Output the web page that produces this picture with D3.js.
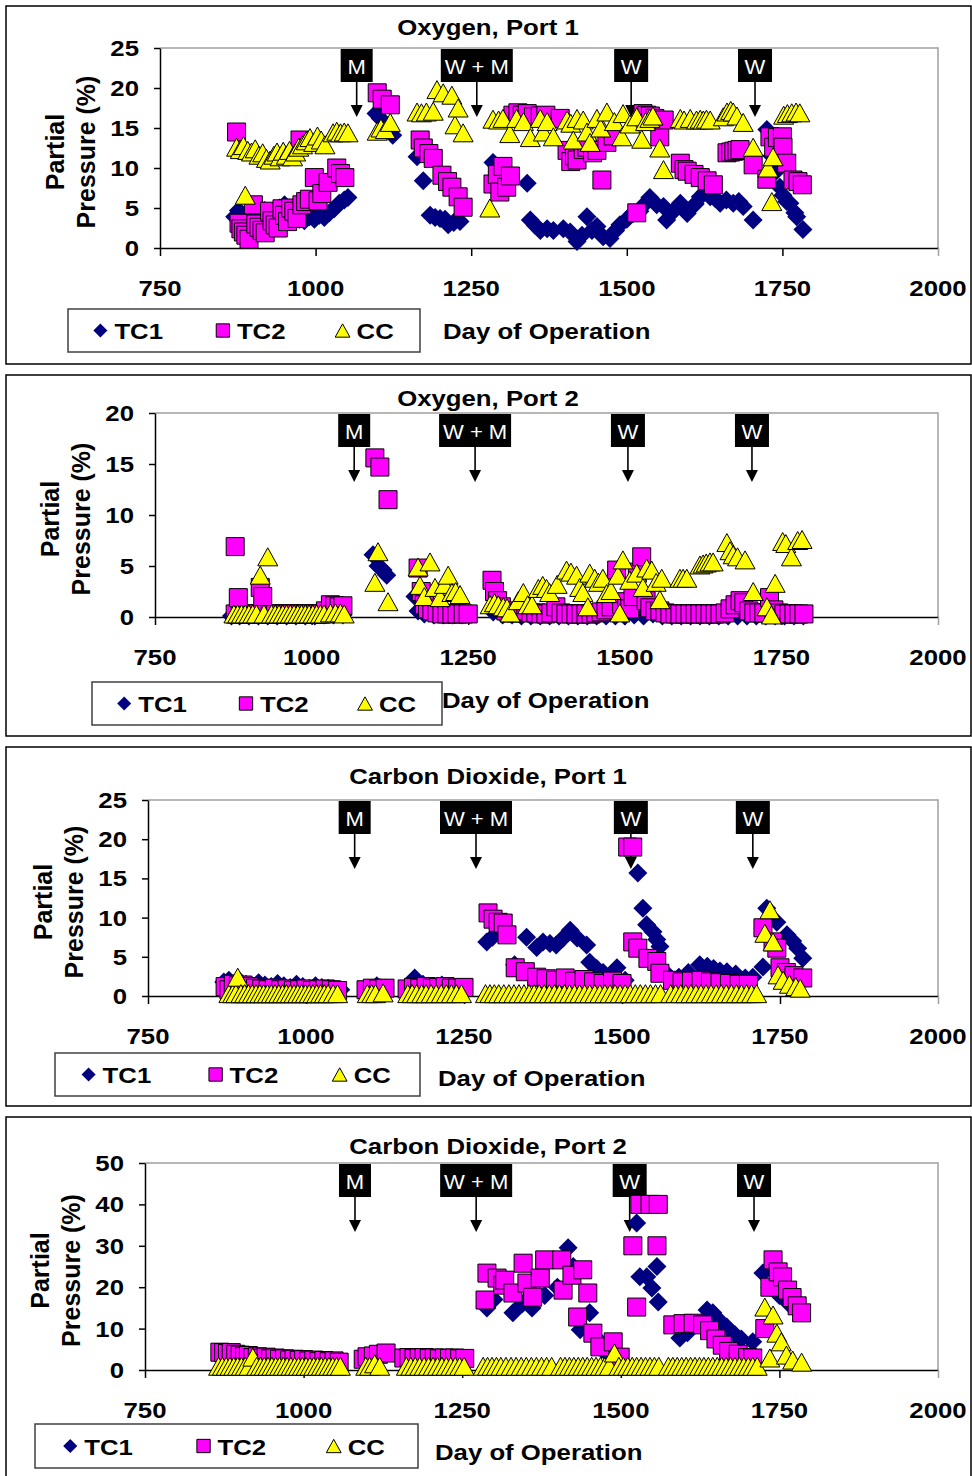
<!DOCTYPE html>
<html><head><meta charset="utf-8">
<script src="https://cdn.jsdelivr.net/npm/d3@7"></script>
<style>body{margin:0;background:#fff}svg{display:block}</style>
</head><body>
<svg id="c" width="972" height="1476"></svg>
<script>
// ---------- data: [day of operation, partial pressure %] ----------
const seriesNames = ["TC1", "TC2", "CC"];
const panelTitles = ["Oxygen, Port 1", "Oxygen, Port 2", "Carbon Dioxide, Port 1", "Carbon Dioxide, Port 2"];
const xTicks = [750, 1000, 1250, 1500, 1750, 2000];
const yTicksO2P1 = [0, 5, 10, 15, 20, 25];
const yTicksO2P2 = [0, 5, 10, 15, 20];
const yTicksCO2P1 = [0, 5, 10, 15, 20, 25];
const yTicksCO2P2 = [0, 10, 20, 30, 40, 50];
const eventLabels = ["M", "W + M", "W", "W"];
const eventDaysO2P1 = [1066, 1259, 1507, 1706];
const eventDaysO2P2 = [1068, 1261, 1505, 1703];
const eventDaysCO2P1 = [1077, 1269, 1514, 1707];
const eventDaysCO2P2 = [1081, 1272, 1514, 1710];

const o2p1TC1 = [[870,3.9],[876,4.7],[882,4.2],[888,3.5],[895,3.3],[902,3.9],[910,4.3],[918,4.7],[926,4.0],[934,4.5],[942,5.0],[950,5.4],[958,5.0],[966,4.4],[974,3.6],[982,3.4],[990,3.9],[998,3.6],[1006,4.1],[1014,3.8],[1022,4.4],[1030,4.9],[1038,5.6],[1046,6.0],[1052,6.3],[1097,16.8],[1104,16.2],[1112,15.5],[1124,14.1],[1163,11.4],[1173,8.4],[1184,4.1],[1192,3.8],[1200,3.7],[1208,3.6],[1213,2.9],[1222,3.2],[1232,3.3],[1285,10.7],[1292,8.6],[1300,7.7],[1340,8.1],[1345,3.5],[1353,2.8],[1361,2.2],[1372,2.4],[1382,2.2],[1398,2.4],[1409,2.0],[1420,0.8],[1428,1.6],[1436,3.9],[1444,2.2],[1452,2.7],[1462,1.4],[1473,1.2],[1482,2.2],[1489,2.9],[1500,3.6],[1510,4.3],[1521,4.6],[1530,5.6],[1537,6.3],[1548,5.4],[1559,5.2],[1564,3.5],[1575,4.6],[1586,5.6],[1597,4.3],[1610,5.5],[1618,6.4],[1626,7.0],[1634,6.4],[1642,6.2],[1650,5.6],[1660,6.0],[1671,5.6],[1680,5.8],[1687,5.2],[1703,3.5],[1725,14.8],[1733,11.5],[1740,9.6],[1746,7.6],[1751,6.6],[1757,5.8],[1762,5.6],[1770,4.4],[1773,3.9],[1783,2.3]];
const o2p1TC2 = [[873,14.5],[877,3.1],[880,2.4],[884,2.0],[888,1.6],[893,1.1],[900,5.4],[904,3.0],[909,2.6],[914,2.2],[919,1.9],[926,4.6],[930,3.4],[935,2.9],[940,2.5],[946,4.9],[950,4.1],[955,3.3],[960,5.0],[965,4.6],[970,3.7],[975,13.5],[978,5.4],[984,5.8],[990,6.1],[998,8.8],[1004,5.9],[1010,6.8],[1020,8.2],[1034,10.0],[1040,9.3],[1047,8.8],[1099,19.4],[1107,18.6],[1120,17.9],[1168,13.5],[1173,12.5],[1182,11.8],[1189,11.2],[1203,9.1],[1212,8.3],[1219,7.6],[1229,6.4],[1237,5.1],[1285,8.0],[1292,9.2],[1296,7.0],[1301,10.2],[1307,7.6],[1313,9.0],[1317,16.6],[1325,16.9],[1332,16.6],[1340,16.8],[1350,16.4],[1361,16.5],[1370,16.6],[1393,16.2],[1404,12.2],[1410,10.8],[1416,11.5],[1420,11.0],[1430,12.3],[1436,12.6],[1445,11.9],[1452,12.2],[1460,8.5],[1468,13.2],[1478,14.0],[1516,4.4],[1526,16.8],[1532,16.6],[1538,16.5],[1545,16.2],[1553,13.9],[1560,16.0],[1586,10.6],[1592,9.8],[1597,9.6],[1608,9.2],[1618,8.8],[1629,8.4],[1639,7.9],[1661,11.9],[1667,12.0],[1672,12.1],[1677,12.2],[1682,12.3],[1703,10.4],[1725,8.6],[1730,13.9],[1736,12.6],[1742,13.8],[1750,13.9],[1751,12.6],[1757,10.6],[1767,8.5],[1775,8.3],[1782,7.9]];
const o2p1CC = [[873,12.6],[879,12.3],[884,12.8],[887,6.6],[891,12.2],[897,12.0],[903,12.4],[909,11.6],[915,11.9],[921,11.2],[927,11.0],[933,11.6],[938,12.0],[943,11.4],[948,12.1],[953,11.6],[958,12.2],[963,11.4],[968,12.0],[973,12.6],[979,12.9],[985,13.4],[991,13.8],[997,13.2],[1003,14.0],[1009,13.5],[1015,12.9],[1028,14.4],[1034,14.6],[1040,14.4],[1046,14.5],[1052,14.4],[1099,14.6],[1105,15.0],[1112,14.8],[1120,15.7],[1163,17.0],[1170,16.9],[1178,17.0],[1189,17.1],[1195,19.8],[1205,19.4],[1219,19.1],[1224,15.4],[1229,17.5],[1237,14.4],[1280,5.0],[1285,16.1],[1294,16.0],[1301,16.2],[1312,14.3],[1323,16.2],[1334,15.8],[1345,13.8],[1361,16.2],[1366,14.5],[1372,15.8],[1382,13.9],[1404,16.0],[1410,15.6],[1414,13.5],[1420,16.2],[1430,16.0],[1436,14.5],[1441,13.2],[1452,16.2],[1458,15.0],[1468,17.0],[1480,15.8],[1492,13.9],[1494,16.8],[1505,15.5],[1516,16.4],[1524,13.6],[1530,15.8],[1537,16.2],[1542,16.5],[1553,12.5],[1559,9.8],[1586,16.2],[1592,16.0],[1602,16.2],[1612,16.0],[1618,16.1],[1623,16.0],[1628,16.1],[1634,16.0],[1655,16.4],[1661,17.0],[1667,17.2],[1671,17.0],[1677,16.5],[1687,15.7],[1703,12.6],[1727,10.0],[1733,5.8],[1735,11.4],[1752,16.6],[1758,16.8],[1765,16.9],[1772,17.0],[1778,16.9]];

const o2p2TC1 = [[872,0.1],[885,0.1],[900,0.1],[915,0.1],[930,0.1],[945,0.1],[960,0.1],[975,0.1],[990,0.1],[1005,0.1],[1020,0.2],[1035,0.2],[1050,0.2],[1098,6.1],[1106,5.0],[1114,4.6],[1120,4.1],[1165,2.0],[1170,0.6],[1180,0.3],[1195,0.2],[1210,0.2],[1225,0.2],[1240,0.2],[1290,0.5],[1305,0.2],[1320,0.2],[1335,0.1],[1350,0.1],[1365,0.1],[1380,0.1],[1395,0.1],[1410,0.1],[1425,0.1],[1440,0.1],[1455,0.1],[1470,0.1],[1485,0.1],[1500,0.1],[1515,0.2],[1530,0.1],[1545,0.3],[1560,0.1],[1575,0.1],[1590,0.1],[1605,0.1],[1620,0.1],[1635,0.1],[1650,0.1],[1665,0.1],[1680,0.1],[1695,0.1],[1710,0.1],[1725,0.1],[1740,0.1],[1755,0.1],[1770,0.1],[1785,0.1]];
const o2p2TC2 = [[878,0.3],[886,0.3],[894,0.3],[902,0.3],[910,0.3],[926,0.3],[934,0.3],[942,0.3],[950,0.3],[958,0.3],[966,0.3],[974,0.3],[982,0.3],[990,0.3],[998,0.3],[1006,0.3],[1014,0.3],[1022,0.6],[1030,1.2],[1037,1.1],[1044,1.0],[1050,1.1],[878,6.9],[883,1.9],[918,2.9],[922,2.0],[1101,15.6],[1109,14.7],[1122,11.5],[1170,4.8],[1175,2.5],[1180,1.2],[1185,0.8],[1192,0.6],[1200,0.4],[1208,0.3],[1216,0.3],[1224,0.3],[1232,0.3],[1242,0.3],[1250,0.3],[1288,3.6],[1292,2.5],[1297,1.6],[1303,1.0],[1310,0.6],[1318,0.4],[1326,0.4],[1334,0.5],[1342,0.6],[1350,0.4],[1358,0.4],[1366,0.3],[1374,0.3],[1382,0.4],[1390,1.0],[1398,0.4],[1406,0.3],[1414,0.3],[1422,0.3],[1430,0.3],[1438,0.3],[1446,0.3],[1454,0.4],[1462,0.5],[1470,0.7],[1478,1.0],[1487,4.6],[1495,1.2],[1503,1.5],[1508,0.8],[1513,2.0],[1520,4.4],[1527,5.9],[1534,1.6],[1540,0.9],[1548,0.6],[1556,0.6],[1564,0.4],[1572,0.3],[1580,0.3],[1588,0.3],[1596,0.3],[1604,0.3],[1612,0.3],[1620,0.3],[1628,0.3],[1636,0.3],[1644,0.3],[1652,0.3],[1660,0.4],[1668,0.8],[1676,1.2],[1684,1.6],[1690,1.4],[1698,0.6],[1706,0.4],[1714,0.4],[1722,0.4],[1731,1.9],[1738,0.7],[1746,0.4],[1754,0.3],[1762,0.3],[1770,0.3],[1778,0.3],[1786,0.3]];
const o2p2CC = [[876,0.3],[882,0.3],[888,0.3],[894,0.3],[900,0.3],[906,0.3],[912,0.3],[918,4.1],[924,0.3],[930,5.9],[936,0.3],[942,0.3],[948,0.3],[954,0.3],[960,0.3],[966,0.3],[972,0.3],[978,0.3],[984,0.3],[990,0.3],[996,0.3],[1002,0.3],[1008,0.3],[1014,0.3],[1020,0.3],[1030,0.4],[1038,0.4],[1046,0.4],[1052,0.3],[1101,3.4],[1106,6.4],[1122,1.5],[1170,4.9],[1173,3.1],[1180,2.0],[1189,5.4],[1197,2.9],[1205,1.9],[1212,3.2],[1218,4.1],[1224,2.4],[1230,2.5],[1237,2.2],[1285,1.2],[1292,1.4],[1298,1.2],[1306,1.0],[1312,0.9],[1317,0.4],[1330,1.6],[1338,2.4],[1345,1.2],[1352,1.2],[1362,2.8],[1369,3.1],[1375,2.8],[1380,2.4],[1392,3.2],[1407,4.6],[1414,4.4],[1423,4.1],[1428,2.9],[1433,2.4],[1441,1.0],[1444,4.3],[1452,3.8],[1458,3.4],[1465,3.8],[1471,2.3],[1478,2.6],[1489,4.1],[1492,0.4],[1497,5.6],[1508,3.6],[1519,4.3],[1529,2.9],[1535,4.8],[1543,4.6],[1550,3.4],[1556,1.7],[1559,3.8],[1588,3.8],[1593,3.8],[1599,3.8],[1620,5.1],[1625,5.2],[1630,5.3],[1636,5.4],[1641,5.4],[1663,7.3],[1668,6.5],[1673,6.1],[1680,5.9],[1692,5.6],[1705,2.5],[1727,1.0],[1734,0.2],[1740,3.3],[1752,7.4],[1757,7.2],[1766,5.9],[1776,7.5],[1783,7.6]];

const co2p1TC1 = [[870,1.8],[878,2.0],[886,1.6],[895,1.9],[905,1.5],[915,1.3],[925,1.7],[935,1.4],[945,1.2],[955,1.6],[965,1.3],[975,1.1],[985,1.5],[995,1.2],[1005,1.0],[1015,1.3],[1025,1.1],[1035,1.0],[1045,0.9],[1055,0.8],[1100,0.8],[1112,1.3],[1125,1.0],[1165,1.6],[1172,2.3],[1185,1.5],[1200,1.2],[1215,1.4],[1230,1.2],[1245,1.0],[1286,6.9],[1295,7.5],[1305,8.0],[1318,7.8],[1330,4.0],[1349,7.5],[1365,6.2],[1375,6.9],[1386,6.7],[1396,6.5],[1407,7.4],[1418,8.4],[1429,7.4],[1444,6.5],[1449,4.3],[1460,3.5],[1470,3.0],[1480,2.5],[1492,3.6],[1505,2.0],[1525,15.7],[1533,11.2],[1539,9.1],[1549,8.2],[1555,7.2],[1560,6.3],[1575,2.5],[1590,2.4],[1605,3.0],[1623,4.0],[1635,3.8],[1645,3.5],[1655,3.2],[1666,3.1],[1680,2.8],[1695,2.3],[1707,2.4],[1723,3.7],[1729,11.2],[1745,9.4],[1761,7.8],[1770,7.0],[1778,6.1],[1786,4.8]];
const co2p1TC2 = [[872,1.2],[878,0.8],[885,1.5],[893,1.3],[900,1.4],[910,1.2],[920,1.0],[930,0.9],[940,0.8],[950,1.0],[960,0.8],[970,0.9],[980,0.7],[990,0.8],[1000,0.9],[1010,0.7],[1020,0.8],[1030,0.9],[1040,0.8],[1050,0.7],[1095,0.8],[1105,1.0],[1115,0.9],[1125,1.0],[1160,0.9],[1170,1.1],[1180,1.0],[1190,1.2],[1200,1.0],[1210,1.1],[1220,1.2],[1230,1.0],[1240,1.0],[1250,1.1],[1288,10.6],[1296,9.8],[1304,9.4],[1312,9.3],[1318,7.8],[1331,3.6],[1347,3.1],[1365,2.4],[1380,2.2],[1395,2.0],[1410,2.3],[1425,1.9],[1440,2.1],[1455,1.8],[1470,1.6],[1485,1.9],[1500,1.6],[1509,19.0],[1517,19.0],[1517,6.9],[1525,6.1],[1541,4.8],[1555,4.4],[1560,2.9],[1580,2.0],[1595,1.8],[1610,1.9],[1625,2.0],[1640,1.8],[1655,1.7],[1670,1.6],[1685,1.5],[1700,1.5],[1723,8.7],[1739,6.9],[1745,6.1],[1750,3.6],[1760,3.0],[1772,2.6],[1786,2.3]];
const co2p1CC = [[878,0.3],[884,0.3],[889,0.3],[892,2.4],[897,0.3],[903,0.3],[909,0.3],[915,0.3],[921,0.3],[927,0.3],[933,0.3],[939,0.3],[945,0.3],[951,0.3],[957,0.3],[963,0.3],[969,0.3],[975,0.3],[981,0.3],[987,0.3],[993,0.3],[999,0.3],[1005,0.3],[1011,0.3],[1017,0.3],[1023,0.3],[1029,0.3],[1035,0.3],[1043,0.3],[1050,0.3],[1097,0.3],[1104,0.3],[1110,0.3],[1122,0.4],[1161,0.3],[1168,0.3],[1175,0.3],[1183,0.3],[1190,0.3],[1198,0.3],[1206,0.3],[1214,0.3],[1222,0.3],[1230,0.3],[1238,0.3],[1246,0.3],[1284,0.3],[1291,0.3],[1298,0.3],[1305,0.3],[1313,0.3],[1321,0.3],[1329,0.3],[1337,0.3],[1345,0.3],[1353,0.3],[1361,0.3],[1369,0.3],[1377,0.3],[1385,0.3],[1393,0.3],[1401,0.3],[1409,0.3],[1417,0.3],[1425,0.3],[1433,0.3],[1441,0.3],[1449,0.3],[1457,0.3],[1465,0.3],[1473,0.3],[1481,0.3],[1489,0.3],[1497,0.3],[1505,0.3],[1513,0.3],[1521,0.3],[1529,0.3],[1537,0.3],[1545,0.3],[1553,0.3],[1561,0.3],[1577,0.3],[1585,0.3],[1593,0.3],[1601,0.3],[1609,0.3],[1617,0.3],[1625,0.3],[1633,0.3],[1641,0.3],[1649,0.3],[1657,0.3],[1665,0.3],[1673,0.3],[1681,0.3],[1689,0.3],[1697,0.3],[1705,0.3],[1713,0.3],[1726,8.0],[1734,11.0],[1739,6.9],[1747,2.7],[1755,2.0],[1765,1.5],[1775,1.2],[1782,1.0]];

const co2p2TC1 = [[870,3.5],[900,3.0],[950,2.5],[1000,2.2],[1050,2.0],[1110,2.5],[1170,2.5],[1230,2.3],[1289,15.0],[1300,17.0],[1330,13.8],[1345,16.0],[1360,15.0],[1380,18.0],[1400,20.0],[1417,29.5],[1425,25.0],[1436,9.7],[1451,13.8],[1460,8.0],[1470,5.0],[1485,3.0],[1500,2.0],[1525,35.5],[1530,22.5],[1541,22.5],[1549,19.8],[1557,25.0],[1559,16.4],[1593,7.7],[1605,9.0],[1620,11.0],[1636,14.5],[1645,13.8],[1655,12.0],[1667,10.4],[1680,8.5],[1690,7.5],[1708,6.8],[1724,23.4],[1735,20.0],[1750,18.0],[1765,16.0],[1780,14.0]];
const co2p2TC2 = [[868,4.3],[874,4.2],[880,4.0],[886,4.2],[893,3.8],[900,3.6],[907,3.3],[913,3.5],[920,3.0],[927,3.2],[934,2.8],[941,3.1],[948,2.7],[955,2.9],[962,2.6],[970,2.7],[978,2.4],[985,2.6],[993,2.3],[1000,2.5],[1008,2.2],[1016,2.4],[1024,2.1],[1032,2.3],[1040,2.0],[1048,2.2],[1056,1.9],[1094,2.6],[1100,3.2],[1110,3.4],[1118,3.8],[1130,4.1],[1158,2.9],[1166,3.0],[1174,2.8],[1182,2.9],[1190,3.0],[1198,2.8],[1206,2.9],[1214,2.7],[1222,2.9],[1230,2.8],[1238,2.9],[1246,2.7],[1254,2.8],[1286,16.9],[1289,23.4],[1305,22.2],[1314,20.5],[1317,21.7],[1330,18.6],[1346,25.8],[1352,21.0],[1361,17.6],[1373,22.2],[1380,26.6],[1407,26.6],[1409,19.3],[1423,22.9],[1432,12.8],[1440,24.2],[1448,18.6],[1456,8.9],[1467,5.6],[1488,6.8],[1499,3.1],[1519,30.0],[1525,15.2],[1530,40.0],[1546,40.0],[1559,40.0],[1557,30.0],[1582,10.9],[1598,11.2],[1614,11.3],[1629,10.9],[1640,9.5],[1650,7.5],[1660,6.0],[1670,4.5],[1685,3.8],[1700,3.0],[1708,2.9],[1727,10.0],[1735,20.0],[1740,26.6],[1748,23.7],[1755,22.5],[1763,19.3],[1770,17.5],[1778,15.5],[1785,13.8]];
const co2p2CC = [[866,0.9],[872,0.9],[878,0.9],[884,0.9],[890,0.9],[896,0.9],[902,0.9],[908,0.9],[914,0.9],[920,3.1],[926,0.9],[932,0.9],[938,0.9],[944,0.9],[950,0.9],[956,0.9],[962,0.9],[968,0.9],[974,0.9],[980,0.9],[986,0.9],[992,0.9],[998,0.9],[1004,0.9],[1010,0.9],[1016,0.9],[1022,0.9],[1028,0.9],[1034,0.9],[1040,0.9],[1046,0.9],[1052,0.9],[1058,0.9],[1098,0.9],[1104,0.9],[1112,1.5],[1120,0.9],[1162,0.9],[1169,0.9],[1176,0.9],[1183,0.9],[1190,0.9],[1197,0.9],[1204,0.9],[1211,0.9],[1218,0.9],[1225,0.9],[1232,0.9],[1239,0.9],[1246,0.9],[1253,0.9],[1283,0.9],[1290,0.9],[1297,0.9],[1304,0.9],[1311,0.9],[1319,0.9],[1327,0.9],[1335,0.9],[1343,0.9],[1351,0.9],[1359,0.9],[1367,0.9],[1375,0.9],[1383,0.9],[1391,0.9],[1405,0.9],[1412,0.9],[1419,0.9],[1426,0.9],[1433,0.9],[1440,0.9],[1447,0.9],[1454,0.9],[1461,0.9],[1468,0.9],[1475,0.9],[1482,0.9],[1490,4.1],[1497,0.9],[1504,0.9],[1511,0.9],[1518,0.9],[1525,0.9],[1532,0.9],[1539,0.9],[1546,0.9],[1553,0.9],[1560,0.9],[1575,0.9],[1582,0.9],[1589,0.9],[1596,0.9],[1603,0.9],[1610,0.9],[1617,0.9],[1624,0.9],[1631,0.9],[1638,0.9],[1645,0.9],[1652,0.9],[1659,0.9],[1666,0.9],[1673,0.9],[1680,0.9],[1687,0.9],[1694,0.9],[1701,0.9],[1708,0.9],[1715,0.9],[1727,15.2],[1735,2.9],[1740,13.3],[1746,8.9],[1753,6.8],[1761,3.6],[1771,2.4],[1785,1.9]];

// ---------- layout of the four stacked panels ----------
const panels = [
  {title: panelTitles[0], series: [o2p1TC1, o2p1TC2, o2p1CC], yTicks: yTicksO2P1, events: eventDaysO2P1,
   frame: [6, 6, 971, 364], x0: 160, yTop: 48, yBot: 248, titleY: 35, legend: [68, 309, 420, 352], dooX: 443, dooY: 339},
  {title: panelTitles[1], series: [o2p2TC1, o2p2TC2, o2p2CC], yTicks: yTicksO2P2, events: eventDaysO2P2,
   frame: [6, 375, 971, 736], x0: 155, yTop: 413, yBot: 617, titleY: 406, legend: [92, 682, 442, 725], dooX: 442, dooY: 708},
  {title: panelTitles[2], series: [co2p1TC1, co2p1TC2, co2p1CC], yTicks: yTicksCO2P1, events: eventDaysCO2P1,
   frame: [6, 747, 971, 1106], x0: 148, yTop: 800, yBot: 996, titleY: 784, legend: [55, 1053, 420, 1096], dooX: 438, dooY: 1086},
  {title: panelTitles[3], series: [co2p2TC1, co2p2TC2, co2p2CC], yTicks: yTicksCO2P2, events: eventDaysCO2P2,
   frame: [6, 1117, 971, 1490], x0: 145, yTop: 1163, yBot: 1370, titleY: 1154, legend: [35, 1424, 418, 1468], dooX: 435, dooY: 1460}
];

const FONT = '"Liberation Sans", Arial, Helvetica, sans-serif';
const SX = 1.12;           // horizontal stretch of the lettering
const X1 = 938;            // right edge of every plot area
const eventBoxW = {"M": 32, "W + M": 72, "W": 34};
const styles = [
  {fill: "#000080", stroke: "none"},
  {fill: "#FF00FF", stroke: "#000"},
  {fill: "#FFFF00", stroke: "#000"}
];

const svg = d3.select("#c");

function text(g, x, y, str, size, anchor, opts = {}) {
  return g.append("text")
    .attr("transform", `translate(${x},${y}) scale(${opts.sx ?? SX},1)`)
    .attr("text-anchor", anchor)
    .attr("font-family", FONT)
    .attr("font-size", size)
    .attr("font-weight", opts.weight ?? "bold")
    .attr("fill", opts.fill ?? "#000")
    .text(str);
}

// marker outlines centred on (0,0); k scales them for the legend
function markerPath(i, k) {
  if (i === 0) { const r = 9.5 * k; return `M0,${-r}L${r},0L0,${r}L${-r},0Z`; }
  if (i === 1) { const h = 9 * k; return `M${-h},${-h}H${h}V${h}H${-h}Z`; }
  const w = 10 * k, t = 9 * k;
  return `M0,${-t}L${w},${t}L${-w},${t}Z`;
}

function drawPanel(p) {
  const g = svg.append("g");
  g.append("rect")
    .attr("x", p.frame[0]).attr("y", p.frame[1])
    .attr("width", p.frame[2] - p.frame[0]).attr("height", p.frame[3] - p.frame[1])
    .attr("fill", "#fff").attr("stroke", "#000").attr("stroke-width", 1.5);

  const x = d3.scaleLinear().domain([xTicks[0], xTicks[xTicks.length - 1]]).range([p.x0, X1]);
  const y = d3.scaleLinear().domain([0, p.yTicks[p.yTicks.length - 1]]).range([p.yBot, p.yTop]);

  // grey top / right border of the plot area
  g.append("path")
    .attr("d", `M${p.x0},${p.yTop}H${X1}V${p.yBot}`)
    .attr("fill", "none").attr("stroke", "#a0a0a0").attr("stroke-width", 1.5);

  // axes
  const yAxis = g.append("g").attr("transform", `translate(${p.x0},0)`)
    .call(d3.axisLeft(y).tickValues(p.yTicks).tickSize(6).tickSizeOuter(0).tickFormat(""));
  const xAxis = g.append("g").attr("transform", `translate(0,${p.yBot})`)
    .call(d3.axisBottom(x).tickValues(xTicks).tickSize(8).tickSizeOuter(0).tickFormat(""));
  [yAxis, xAxis].forEach(a => {
    a.selectAll("path,line").attr("stroke", "#000").attr("stroke-width", 1.5);
  });
  xAxis.selectAll(".tick").filter(d => d === xTicks[xTicks.length - 1]).select("line").attr("stroke", "#a0a0a0");

  p.yTicks.forEach(v => text(g, p.x0 - 21, y(v) + 8, String(v), 23, "end"));
  xTicks.forEach(v => text(g, x(v), p.yBot + 48, String(v), 23, "middle"));

  // title and axis titles
  text(g, 488, p.titleY, p.title, 23, "middle");
  const cy = (p.yTop + p.yBot) / 2 + 4;
  [["Partial", p.x0 - 105], ["Pressure (%)", p.x0 - 74]].forEach(([s, lx]) => {
    g.append("text")
      .attr("transform", `translate(${lx},${cy}) rotate(-90)`)
      .attr("text-anchor", "middle").attr("dy", "0.36em")
      .attr("font-family", FONT).attr("font-size", 25).attr("font-weight", "bold")
      .text(s);
  });

  // event markers: black label box with an arrow pointing down
  p.events.forEach((d, i) => {
    const lab = eventLabels[i];
    const cx = x(d), bw = eventBoxW[lab], top = p.yTop + 1, bh = 33, tip = p.yTop + 69;
    g.append("rect").attr("x", cx - bw / 2).attr("y", top).attr("width", bw).attr("height", bh).attr("fill", "#000");
    text(g, cx, top + 25, lab, 21, "middle", {weight: "normal", fill: "#fff", sx: 1.05});
    g.append("line").attr("x1", cx).attr("x2", cx).attr("y1", top + bh).attr("y2", tip - 10)
      .attr("stroke", "#000").attr("stroke-width", 1.6);
    g.append("path").attr("d", `M${cx - 6},${tip - 12}L${cx + 6},${tip - 12}L${cx},${tip}Z`).attr("fill", "#000");
  });

  // data points: TC1 first, then TC2, then CC on top
  p.series.forEach((data, i) => {
    g.append("g").selectAll("path").data(data).join("path")
      .attr("transform", d => `translate(${x(d[0])},${y(d[1])})`)
      .attr("d", markerPath(i, 1))
      .attr("fill", styles[i].fill)
      .attr("stroke", styles[i].stroke)
      .attr("stroke-width", 1);
  });

  // legend
  const [lx0, ly0, lx1, ly1] = p.legend;
  g.append("rect").attr("x", lx0).attr("y", ly0).attr("width", lx1 - lx0).attr("height", ly1 - ly0)
    .attr("fill", "#fff").attr("stroke", "#404040").attr("stroke-width", 1.5);
  const lw = lx1 - lx0, lcy = (ly0 + ly1) / 2;
  [0.092, 0.44, 0.78].forEach((f, i) => {
    const mx = lx0 + f * lw;
    g.append("path").attr("transform", `translate(${mx},${lcy})`)
      .attr("d", markerPath(i, 0.74))
      .attr("fill", styles[i].fill).attr("stroke", styles[i].stroke).attr("stroke-width", 1);
    text(g, mx + 14, lcy + 8.5, seriesNames[i], 23, "start");
  });
  text(g, p.dooX, p.dooY, "Day of Operation", 23, "start");
}

panels.forEach(drawPanel);
</script>
</body></html>
